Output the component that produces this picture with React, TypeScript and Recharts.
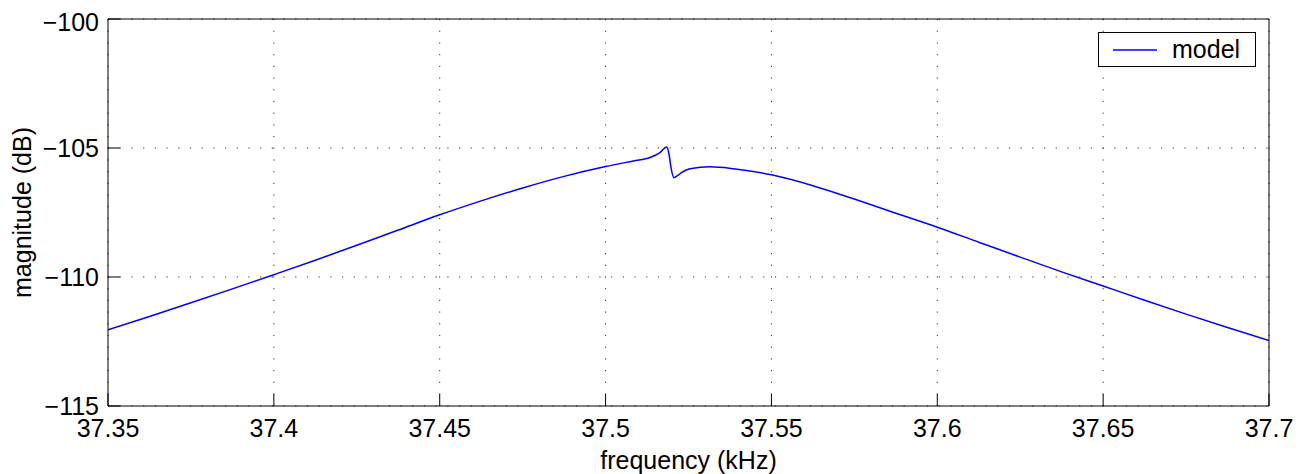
import { LineChart, Line, XAxis, YAxis, CartesianGrid, Legend } from "recharts";

// frequency (kHz) and magnitude (dB)
const FREQ = [
  37.35, 37.3625, 37.375, 37.3875, 37.4, 37.4125, 37.425, 37.4375, 37.45, 37.4625,
  37.475, 37.4875, 37.5, 37.5084, 37.5134, 37.5164, 37.5184, 37.5191, 37.5197,
  37.5206, 37.5224, 37.5245, 37.5285, 37.5315, 37.5385, 37.55, 37.5625, 37.575,
  37.5875, 37.6, 37.6125, 37.625, 37.6375, 37.65, 37.6625, 37.675, 37.6875, 37.7,
];
const MAG = [
  -112.05, -111.53, -111.0, -110.46, -109.91, -109.35, -108.77, -108.18, -107.59, -107.05,
  -106.55, -106.1, -105.72, -105.5, -105.37, -105.18, -104.96, -105.22, -105.74,
  -106.15, -106.0, -105.84, -105.75, -105.73, -105.8, -106.04, -106.46, -106.98,
  -107.53, -108.07, -108.65, -109.23, -109.8, -110.35, -110.9, -111.44, -111.96, -112.46,
];

const X_TICKS = [37.35, 37.4, 37.45, 37.5, 37.55, 37.6, 37.65, 37.7];
const Y_TICKS = [-115, -110, -105, -100];

const data = FREQ.map((f, i) => ({ f, model: MAG[i] }));

const FONT = '"Liberation Sans", Arial, Helvetica, sans-serif';
const minus = (v: number) => String(v).replace("-", "\u2212");

function ModelLegend() {
  return (
    <div
      style={{
        boxSizing: "border-box",
        width: 158,
        height: 35,
        border: "1px solid #000",
        background: "#fff",
        display: "flex",
        alignItems: "center",
        fontFamily: FONT,
        fontSize: 25,
        color: "#000",
      }}
    >
      <svg width={44} height={4} style={{ marginLeft: 14 }}>
        <line x1={0} y1={2} x2={44} y2={2} stroke="#0000ff" strokeWidth={1.5} />
      </svg>
      <span style={{ marginLeft: 15 }}>model</span>
    </div>
  );
}

export default function App() {
  const tickStyle = { fill: "#000", fontSize: 25, fontFamily: FONT };
  return (
    <div style={{ width: 1298, height: 466, background: "#fff" }}>
      <LineChart
        width={1298}
        height={466}
        data={data}
        margin={{ top: 10, right: 36, bottom: 0, left: 0 }}
      >
        <CartesianGrid stroke="#333" strokeDasharray="1.2 10.5" />
        <XAxis
          dataKey="f"
          type="number"
          domain={[37.35, 37.7]}
          ticks={X_TICKS}
          allowDataOverflow
          height={68}
          tickSize={-12}
          tickMargin={25}
          stroke="#000"
          tick={tickStyle}
          label={{
            value: "frequency (kHz)",
            position: "insideBottom",
            offset: 5,
            style: { fill: "#000", fontSize: 25, fontFamily: FONT },
          }}
        />
        <XAxis
          xAxisId="top"
          orientation="top"
          dataKey="f"
          type="number"
          domain={[37.35, 37.7]}
          ticks={X_TICKS}
          allowDataOverflow
          height={1}
          tickSize={-12}
          tick={false}
          stroke="#000"
        />
        <YAxis
          type="number"
          domain={[-115, -100]}
          ticks={Y_TICKS}
          allowDataOverflow
          width={100}
          tickSize={-12}
          tickMargin={21}
          stroke="#000"
          tick={tickStyle}
          tickFormatter={minus}
          label={{
            value: "magnitude (dB)",
            angle: -90,
            position: "insideLeft",
            offset: 14,
            style: { textAnchor: "middle", fill: "#000", fontSize: 25, fontFamily: FONT },
          }}
        />
        <YAxis
          yAxisId="right"
          orientation="right"
          type="number"
          domain={[-115, -100]}
          ticks={Y_TICKS}
          allowDataOverflow
          width={1}
          tickSize={-12}
          tick={false}
          stroke="#000"
        />
        <Legend
          layout="vertical"
          align="center"
          verticalAlign="middle"
          wrapperStyle={{ left: 1090, top: 24, width: 158, height: 35 }}
          content={() => <ModelLegend />}
        />
        <Line
          type="monotone"
          dataKey="model"
          stroke="#0000ff"
          strokeWidth={1.5}
          dot={false}
          isAnimationActive={false}
        />
      </LineChart>
    </div>
  );
}
